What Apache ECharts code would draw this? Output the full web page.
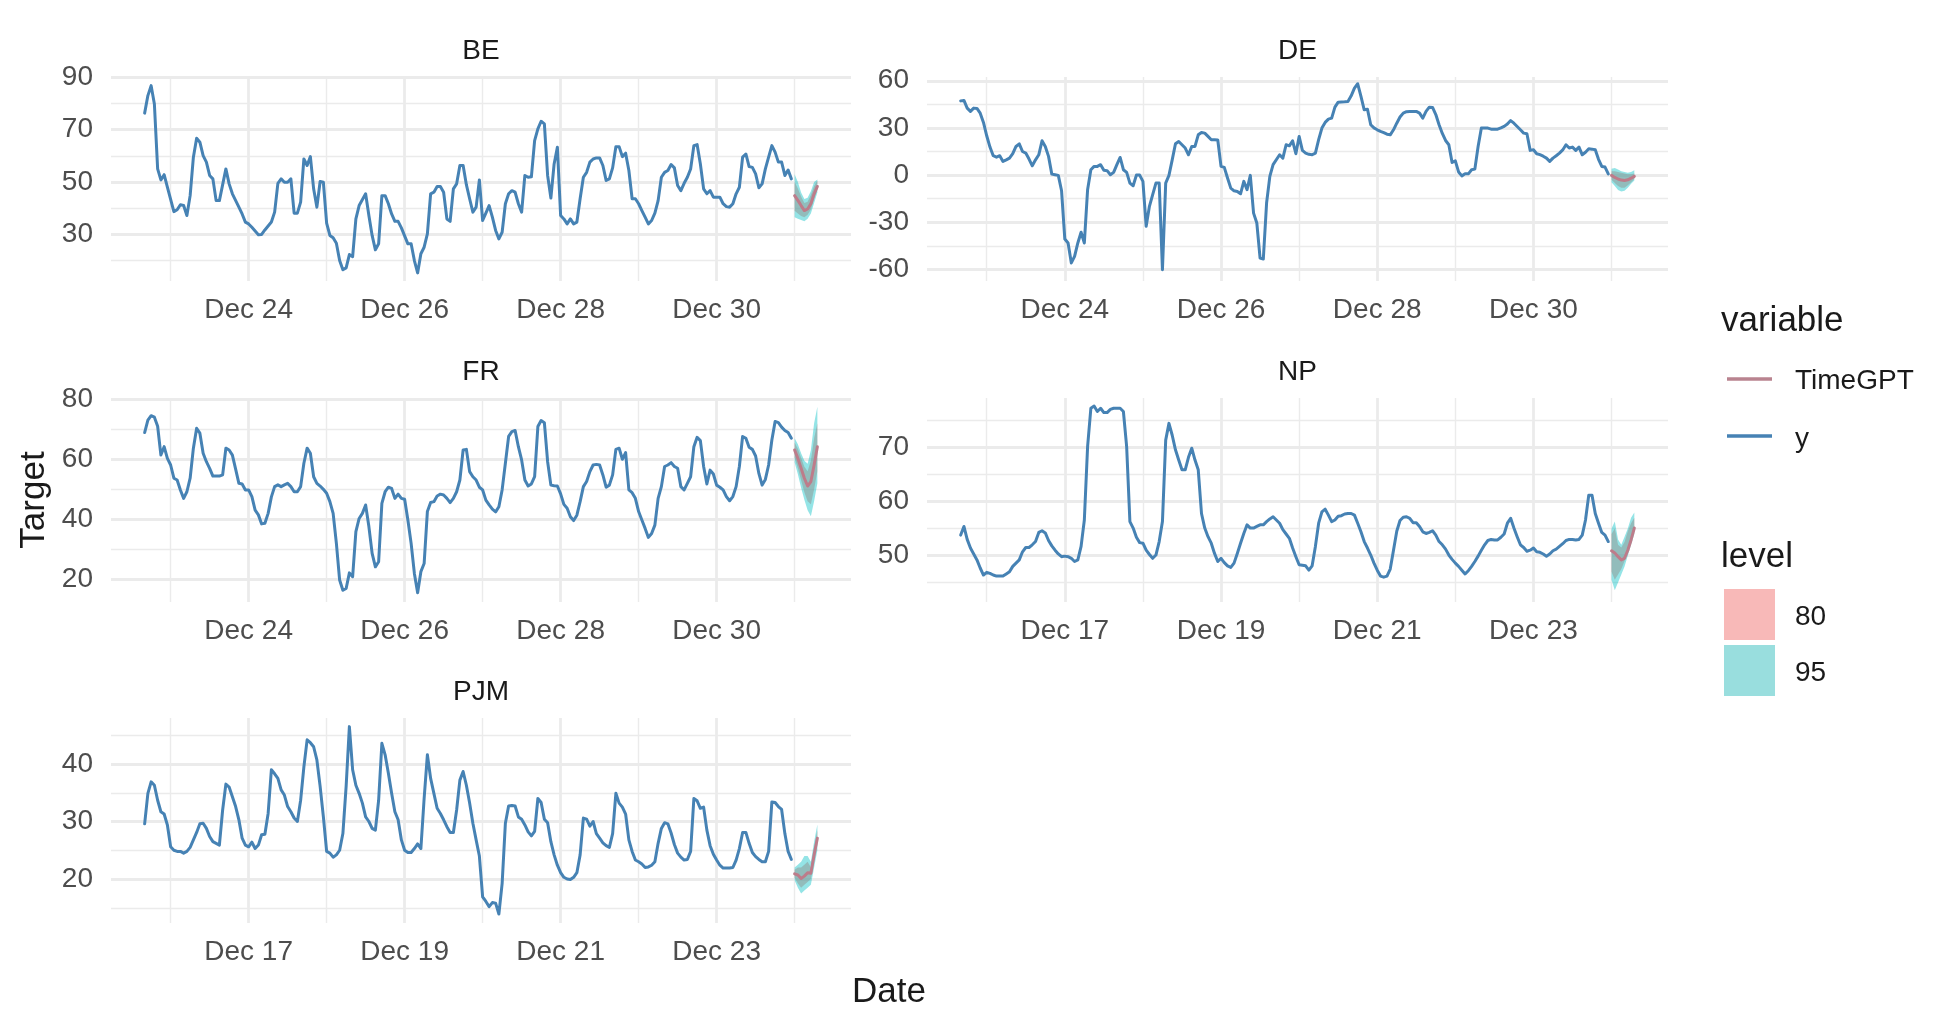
<!DOCTYPE html>
<html>
<head>
<meta charset="utf-8">
<title>TimeGPT forecasts by market</title>
<script src="https://cdn.jsdelivr.net/npm/echarts@6/dist/echarts.min.js"></script>
<style>
  html, body { margin: 0; padding: 0; background: #fff; }
  #chart { width: 1955px; height: 1024px; }
</style>
</head>
<body>
<div id="chart"></div>
<script>
// x values are hours counted from midnight of the panel's first day
// (Dec 22 for BE / DE / FR, Dec 15 for NP / PJM)

const beY = [[16,76.3],[17,83],[18,86.8],[19,79.8],[20,55],[21,50.8],[22,52.8],[23,48],[25,38.7],[26,39.4],[27,41.3],[28,41],[29,37.2],[30,44.8],[31,59.5],[32,66.7],[33,65.2],[34,60.1],[35,57.6],[36,52.5],[37,51.2],[38,42.9],[39,42.9],[41,55],[42,49.3],[43,45.5],[45,40.4],[46,37.8],[47,34.7],[48,34],[49,32.7],[51,29.9],[52,30],[53,31.7],[55,34.7],[56,38.5],[57,49.5],[58,51.2],[59,49.9],[60,49.9],[61,51.2],[62,38.1],[63,38.1],[64,42.3],[65,58.8],[66,56.3],[67,59.7],[68,47.4],[69,40.4],[70,50.2],[71,49.9],[72,34.3],[73,29.6],[74,28.7],[75,26.6],[76,20],[77,16.5],[78,17.2],[79,22.3],[80,21.5],[81,35.9],[82,41],[84,45.5],[85,37.2],[86,29.6],[87,24.1],[88,26.4],[89,44.8],[90,44.8],[91,41.7],[92,37.8],[93,35],[94,35],[95,32.5],[97,26.4],[98,26.4],[99,20],[100,15.3],[101,22.6],[102,25.1],[103,30.2],[104,45.5],[105,46.1],[106,48.3],[107,48.3],[108,46.1],[109,35.9],[110,35],[111,47.4],[112,49.3],[113,56.3],[114,56.3],[115,49],[116,43.6],[117,38.5],[118,40.4],[119,50.8],[120,35.3],[121,38.1],[122,41],[123,36.6],[124,31.5],[125,28.3],[126,30.8],[127,41.7],[128,45.5],[129,46.7],[130,46.1],[131,41.7],[132,38.5],[133,52.5],[134,51.8],[135,52],[136,65.8],[137,70.3],[138,73.2],[139,72.2],[140,52.5],[141,43.9],[142,56.9],[143,63.3],[144,37.2],[145,35.9],[146,34],[147,35.9],[148,34],[149,34.7],[150,43.6],[151,51.8],[152,53.7],[153,57.6],[154,58.8],[155,59.2],[156,59.2],[157,56.3],[158,50.6],[159,51.2],[160,55.4],[161,63.5],[162,63.5],[163,59.7],[164,61],[165,54.4],[166,43.6],[167,43.6],[168,41.7],[169,39.1],[170,36.6],[171,34],[172,35.3],[173,38.1],[174,42.9],[175,51.8],[176,53.7],[177,54.4],[178,56.7],[179,55.4],[180,48.7],[181,46.7],[182,49.5],[183,51.8],[184,55],[185,63.9],[186,64.3],[187,56.9],[188,47.4],[189,45.5],[190,46.7],[191,44.2],[192,44.2],[193,44.2],[194,41.7],[195,40.6],[196,40.4],[197,41.7],[198,45.5],[199,48],[200,59.5],[201,60.7],[202,55.9],[203,55.6],[204,53.1],[205,47.8],[206,49.3],[207,55],[208,59.5],[209,63.9],[210,61.4],[211,57.6],[212,57.6],[213,52.5],[214,54.6],[215,51.2]];

const deY = [[16,47.2],[17,47.5],[18,42.6],[19,40.5],[20,42.6],[21,42.4],[22,39.4],[23,33.5],[24,25],[25,17.8],[26,12.3],[27,11.4],[28,12.3],[29,8.7],[30,9.7],[31,10.8],[32,13.6],[33,18.2],[34,19.9],[35,15],[36,14],[37,10.2],[38,5.9],[39,9.7],[40,12.9],[41,21.8],[42,18.2],[43,11.9],[44,0.6],[45,0.2],[46,-0.2],[47,-10],[48,-40.7],[49,-43.2],[50,-55.9],[51,-51.7],[52,-43.2],[53,-36.4],[54,-43.2],[55,-9.3],[56,3.4],[57,5.5],[58,5.5],[59,6.6],[60,3],[61,2.8],[62,0.2],[63,1.7],[64,6.6],[65,11.2],[66,3.4],[67,1.7],[68,-5.1],[69,-6.8],[70,0],[71,0],[72,-4],[73,-32.6],[74,-19.9],[75,-12.5],[76,-5.1],[77,-5.1],[78,-60.2],[79,-5.1],[80,-0.2],[81,9.7],[82,19.9],[83,21.4],[84,19.3],[85,17.2],[86,12.9],[87,18.2],[88,18.2],[89,25.6],[90,27.1],[91,26.7],[92,24.6],[93,22.5],[94,22.5],[95,22.3],[96,5.5],[97,4.9],[98,-1.9],[99,-8.3],[100,-10],[101,-10.4],[102,-11.9],[103,-4],[104,-9.3],[105,-0.2],[106,-24.2],[107,-30.5],[108,-52.8],[109,-53.4],[110,-17.8],[111,-0.8],[112,6.6],[114,12.9],[115,10.8],[116,19.3],[117,18.6],[118,21.8],[119,13.6],[120,24.6],[121,15.7],[122,14],[123,13.2],[124,12.9],[125,14],[126,22.5],[127,29.9],[128,33.5],[129,35.6],[130,36.2],[131,43.2],[132,46.4],[133,46.5],[134,46.6],[135,46.8],[136,50.4],[137,55.3],[138,58.1],[139,50],[140,41.5],[141,41.9],[142,32],[143,30],[144,28.8],[145,27.8],[146,27],[147,26],[148,25.6],[149,28.8],[150,33],[151,36.9],[152,39.4],[153,40.3],[154,40.5],[155,40.5],[156,40.5],[157,39.4],[158,36.2],[159,40.5],[160,43.2],[161,43],[162,38.5],[163,32],[164,26.5],[165,22],[166,19.3],[167,8],[168,9],[169,2],[170,-0.5],[171,0.8],[172,0.8],[173,3.4],[174,3.8],[175,18.2],[176,29.9],[177,29.9],[178,29.9],[179,29.2],[180,29.2],[181,29.2],[182,30],[183,31],[184,32.5],[185,34.7],[186,33],[187,30.9],[188,28.8],[189,26.7],[190,26.3],[191,15.7],[192,16.1],[193,13.6],[194,13],[195,12],[196,10.8],[197,8.7],[198,10.8],[199,12.3],[200,14],[201,16],[202,19.3],[203,17.2],[204,17.8],[205,15.7],[206,17.8],[207,12.9],[208,14.5],[209,16.7],[210,16.5],[211,16.1],[212,10],[213,5.5],[214,5.1],[215,0.8]];

const frY = [[16,68.9],[17,73],[18,74.5],[19,74],[20,71],[21,61.4],[22,64.2],[23,60.3],[24,58.1],[25,53.7],[26,53.1],[27,49.8],[28,47],[29,49.2],[30,53.7],[31,63.7],[32,70.3],[33,68.7],[34,62],[35,59.2],[36,57],[37,54.4],[38,54.4],[39,54.4],[40,54.8],[41,63.7],[42,63.1],[43,61.4],[44,56.7],[45,52],[46,51.8],[47,49.8],[48,49.8],[49,47.6],[50,43.1],[51,41.5],[52,38.5],[53,38.7],[54,42],[55,47.5],[56,50.9],[57,51.5],[58,50.9],[59,51.5],[60,52],[61,50.9],[62,49.2],[63,49.2],[64,50.9],[65,58.7],[66,63.7],[67,62],[68,54.2],[69,52],[70,51.1],[71,50],[72,48.7],[73,45.9],[74,42],[75,32],[76,19.8],[77,16.4],[78,17],[79,22.2],[80,20.9],[81,35.9],[82,40.3],[83,42],[84,44.8],[85,37.6],[86,28.7],[87,24.2],[88,25.9],[89,45.3],[90,49.2],[91,50.7],[92,50.3],[93,47],[94,48.4],[95,47],[96,46.7],[97,39.8],[98,32],[99,22],[100,15.6],[101,22.6],[102,25.3],[103,42.6],[104,45.6],[105,45.9],[106,47.8],[107,48.4],[108,48.1],[109,47],[110,45.6],[111,47],[112,49.2],[113,53.1],[114,63.1],[115,63.3],[116,55.9],[117,54.2],[118,53.1],[119,50.7],[120,49.8],[121,46.4],[122,44.8],[123,43.4],[124,42.5],[125,44.2],[126,49.8],[127,58.7],[128,67.6],[129,69.2],[130,69.6],[131,64.2],[132,59.8],[133,53.1],[134,51.1],[135,51.8],[136,54.2],[137,70.9],[138,72.9],[139,72.2],[140,59.2],[141,51.4],[142,51.2],[143,51.1],[144,48.5],[145,45],[146,43.7],[147,40.9],[148,39.6],[149,41.4],[150,45.9],[151,50.9],[152,52.6],[153,55.9],[154,58.1],[155,58.3],[156,58.1],[157,54.8],[158,50.7],[159,51.4],[160,54.8],[161,63.3],[162,63.7],[163,60],[164,62.2],[165,49.8],[166,48.9],[167,47],[168,42.6],[169,39.8],[170,37],[171,34],[172,35.3],[173,38.1],[174,47],[175,50.9],[176,57.6],[177,58.1],[178,58.9],[179,57.6],[180,57],[181,50.9],[182,49.8],[183,52],[184,54.2],[185,64.2],[186,67.3],[187,66.2],[188,57.6],[189,51.8],[190,56.4],[191,55.1],[192,51.4],[193,50.7],[194,49.8],[195,47.6],[196,46.2],[197,47.6],[198,50.9],[199,57.6],[200,67.6],[201,67],[202,64],[203,63.3],[204,61.1],[205,55.3],[206,51.4],[207,53.3],[208,58.1],[209,66.4],[210,72.6],[211,72.2],[212,70.7],[213,69.6],[214,68.9],[215,67]];

const npY = [[16,53.8],[17,55.4],[18,53],[19,51.4],[20,50.3],[21,49.2],[22,47.7],[23,46.4],[24,46.9],[25,46.7],[26,46.4],[27,46.2],[28,46.2],[29,46.2],[30,46.6],[31,47],[32,48],[33,48.6],[34,49.2],[35,50.7],[36,51.5],[37,51.5],[38,52],[39,52.6],[40,54.3],[41,54.6],[42,54.2],[43,52.8],[44,51.8],[45,51],[46,50.3],[47,49.8],[48,49.9],[49,49.8],[50,49.5],[51,48.9],[52,49.2],[53,51.7],[54,56.6],[55,70.2],[56,77.3],[57,77.7],[58,76.7],[59,77.3],[60,76.5],[61,76.5],[62,77.1],[63,77.3],[64,77.3],[65,77.3],[66,76.7],[67,70.2],[68,56.3],[69,55.1],[70,53.4],[71,52.4],[72,52.3],[73,51],[74,50.2],[75,49.5],[76,50.1],[77,52.6],[78,56.3],[79,71.4],[80,74.5],[81,72.3],[82,69.6],[83,67.7],[84,65.9],[85,65.9],[86,68.2],[87,69.9],[88,67.7],[89,65.9],[90,57.8],[91,55.1],[92,53.5],[93,52.3],[94,50.4],[95,48.9],[96,49.5],[97,48.7],[98,48.1],[99,47.8],[100,48.6],[101,50.4],[102,52.3],[103,54.1],[104,55.7],[105,55.1],[106,55.1],[107,55.4],[108,55.7],[109,55.7],[110,56.3],[111,56.8],[112,57.2],[113,56.6],[114,56],[115,54.8],[116,54],[117,53.2],[118,51.4],[119,49.8],[120,48.3],[121,48.2],[122,48.1],[123,47.3],[124,48.1],[125,51.7],[126,56],[127,58.1],[128,58.6],[129,57.5],[130,56.3],[131,56.6],[132,57.3],[133,57.4],[134,57.7],[135,57.8],[136,57.8],[137,57.5],[138,56],[139,54.4],[140,52.6],[141,51.4],[142,50.1],[143,48.6],[144,47.3],[145,46.2],[146,46],[147,46.2],[148,47.5],[149,51],[150,54.5],[151,56.5],[152,57.1],[153,57.2],[154,56.9],[155,56.1],[156,56.1],[157,55.4],[158,54.4],[159,54.1],[160,54.3],[161,54.6],[162,53.8],[163,52.6],[164,52],[165,51.2],[166,50.1],[167,49.3],[168,48.6],[169,48],[170,47.3],[171,46.6],[172,47.2],[173,48],[174,48.9],[175,49.9],[176,51],[177,52],[178,52.8],[179,53],[180,52.9],[181,52.9],[182,53.4],[183,54],[184,56],[185,56.9],[186,55.1],[187,53.5],[188,52],[189,51.5],[190,50.8],[191,51],[192,51.4],[193,50.7],[194,50.6],[195,50.3],[196,49.9],[197,50.3],[198,50.9],[199,51.2],[200,51.7],[201,52.2],[202,52.8],[203,53],[204,53],[205,52.9],[206,53],[207,53.8],[208,56.6],[209,61.2],[210,61.2],[211,57.8],[212,56],[213,54.3],[214,53.8],[215,52.6]];

const pjmY = [[16,29.6],[17,34.9],[18,36.9],[19,36.3],[20,33.7],[21,31.7],[22,31.3],[23,29.4],[24,25.6],[25,25],[26,24.8],[27,24.8],[28,24.5],[29,24.8],[30,25.5],[31,26.8],[32,28.1],[33,29.6],[34,29.7],[35,28.8],[36,27.4],[37,26.5],[38,26.2],[39,25.9],[40,32],[41,36.5],[42,36],[43,34.3],[44,32.6],[45,30.3],[46,27.1],[47,25.9],[48,25.6],[49,26.4],[50,25.3],[51,25.9],[52,27.7],[53,27.8],[54,31.4],[55,39],[56,38.3],[57,37.5],[58,35.5],[59,34.6],[60,32.6],[61,31.7],[62,30.6],[63,30],[64,33.7],[65,39.5],[66,44.2],[67,43.7],[68,43],[69,40.7],[70,36.1],[71,30.8],[72,24.8],[73,24.5],[74,23.8],[75,24.2],[76,25],[77,27.9],[78,36.1],[79,46.5],[80,39],[81,36.3],[82,34.9],[83,33.2],[84,30.8],[85,30],[86,28.8],[87,28.5],[88,33.7],[89,43.6],[90,41.6],[91,38.4],[92,34.9],[93,31.7],[94,30.3],[95,26.8],[96,25],[97,24.6],[98,24.6],[99,25.3],[100,26.1],[101,25.3],[102,34],[103,41.6],[104,37.5],[105,34.9],[106,32.3],[107,31.4],[108,30.3],[109,29.1],[110,28.1],[111,28.1],[112,32],[113,37.2],[114,38.7],[115,36.3],[116,33.2],[117,29.7],[118,26.8],[119,24],[120,16.9],[121,16.1],[122,15.2],[123,15.9],[124,15.8],[125,13.9],[126,19.2],[127,29.7],[128,32.7],[129,32.8],[130,32.7],[131,30.8],[132,30.4],[133,29.4],[134,28.2],[135,27.5],[136,28.3],[137,34],[138,33.3],[139,30.4],[140,29.8],[141,26.5],[142,24.2],[143,22.4],[144,21.1],[145,20.3],[146,20],[147,19.9],[148,20.3],[149,21.1],[150,24.2],[151,30.6],[152,30.4],[153,29.2],[154,30],[155,27.9],[156,27.1],[157,26.3],[158,25.8],[159,25.5],[160,27.9],[161,34.9],[162,33.2],[163,32.5],[164,31.3],[165,26.8],[166,24.8],[167,23.3],[168,23],[169,22.6],[170,22],[171,22.1],[172,22.4],[173,23],[174,26.2],[175,28.8],[176,29.8],[177,29.6],[178,28],[179,26],[180,24.5],[181,23.8],[182,23.3],[183,23.4],[184,24.8],[185,34],[186,33.6],[187,32.3],[188,32.5],[189,28.5],[190,25.8],[191,24.3],[192,23.3],[193,22.4],[194,21.9],[195,21.9],[196,21.9],[197,22],[198,23.3],[199,25.3],[200,28.1],[201,28.1],[202,26.2],[203,24.6],[204,23.9],[205,23.4],[206,23],[207,23],[208,24.8],[209,33.4],[210,33.3],[211,32.6],[212,32.1],[213,27.9],[214,24.8],[215,23.4]];

// TimeGPT forecast hours and intervals
const fcHours = [216, 217, 218, 219, 220, 221, 222, 223];

const beMean = [44.8, 43, 41, 39.1, 39.7, 41.7, 45.5, 48.3];
const beLo80 = [39, 38, 37, 36.5, 37.5, 39.5, 43.5, 47];
const beHi80 = [50, 47.5, 44.5, 42, 42.5, 45, 48.5, 50.5];
const beLo95 = [36.5, 36, 35.5, 35, 36, 38, 42, 46];
const beHi95 = [53, 50, 46, 43.5, 44, 46.5, 50, 51];

const deMean = [-0.2, -1.5, -2.5, -3.2, -3.4, -3, -2, -0.8];
const deLo80 = [-3, -5, -7, -8, -8, -6.5, -4.5, -2.5];
const deHi80 = [2.5, 2.5, 2, 1.5, 1, 0.5, 0.5, 1];
const deLo95 = [-4.5, -7, -9.5, -10.5, -10, -8, -5.5, -3.5];
const deHi95 = [4, 4.5, 3.5, 2.5, 2, 1.5, 2, 3];

const frMean = [63.1, 60.3, 57, 53.7, 51.1, 52.6, 58.1, 64.2];
const frLo80 = [60.5, 57, 53, 49, 46, 45, 50, 56];
const frHi80 = [65.5, 63.5, 60.5, 57.5, 56, 59.5, 67, 72];
const frLo95 = [59, 55, 50.5, 46.5, 43, 41, 46, 52];
const frHi95 = [67, 65, 62, 59.5, 58.5, 63, 72, 77.5];

const npMean = [50.9, 50.5, 49.8, 49.2, 49.5, 51, 52.9, 55.1];
const npLo80 = [47, 45.5, 46.5, 47.5, 49, 51, 53, 54.5];
const npHi80 = [54, 55, 52, 51.5, 52.5, 54.5, 56, 57];
const npLo95 = [45.5, 43.6, 45, 46.5, 48, 50, 52, 54];
const npHi95 = [55, 56.3, 53, 52, 53.5, 55, 57, 58];

const pjmMean = [20.9, 20.7, 20.1, 20.5, 21.1, 21, 24.2, 27.1];
const pjmLo80 = [20.2, 19.2, 18.5, 19, 19.5, 20, 23, 26];
const pjmHi80 = [21.6, 22, 22, 22.5, 23, 22, 25.5, 28.5];
const pjmLo95 = [19.8, 18.5, 17.5, 18, 18.5, 19, 22, 25];
const pjmHi95 = [22, 22.5, 23, 24, 24, 23, 26.5, 29.5];

// axis breaks
const xMajor = [48, 96, 144, 192];
const xMinor = [24, 72, 120, 168, 216];
const beTicks = [30, 50, 70, 90],    beMinor = [20, 40, 60, 80];
const deTicks = [-60, -30, 0, 30, 60], deMinor = [-45, -15, 15, 45];
const frTicks = [20, 40, 60, 80],    frMinor = [30, 50, 70];
const npTicks = [50, 60, 70],        npMinor = [45, 55, 65, 75];
const pjmTicks = [20, 30, 40],       pjmMinor = [15, 25, 35, 45];

const FONT = '"Liberation Sans", Arial, Helvetica, sans-serif';
const GRID = '#ebebeb';
const Y_COLOR = '#4682b4';
const GPT_COLOR = '#bd7c8a';
const FILL_80 = 'rgba(248,118,109,0.5)';
const FILL_95 = 'rgba(0,191,196,0.42)';

const panels = [
  { id: 'BE',  y: beY,  mean: beMean,  lo80: beLo80,  hi80: beHi80,  lo95: beLo95,  hi95: beHi95,
    day0: 22, ticks: beTicks,  minor: beMinor,  yMin: 12.2,  yMax: 90.1, box: [111, 77, 740, 204], titleY: 51 },
  { id: 'DE',  y: deY,  mean: deMean,  lo80: deLo80,  hi80: deHi80,  lo95: deLo95,  hi95: deHi95,
    day0: 22, ticks: deTicks,  minor: deMinor,  yMin: -67.4, yMax: 62.4, box: [927, 77, 741, 204], titleY: 51 },
  { id: 'FR',  y: frY,  mean: frMean,  lo80: frLo80,  hi80: frHi80,  lo95: frLo95,  hi95: frHi95,
    day0: 22, ticks: frTicks,  minor: frMinor,  yMin: 12.5,  yMax: 80.4, box: [111, 398, 740, 204], titleY: 372 },
  { id: 'NP',  y: npY,  mean: npMean,  lo80: npLo80,  hi80: npHi80,  lo95: npLo95,  hi95: npHi95,
    day0: 15, ticks: npTicks,  minor: npMinor,  yMin: 41.4,  yMax: 79.2, box: [927, 398, 741, 204], titleY: 372 },
  { id: 'PJM', y: pjmY, mean: pjmMean, lo80: pjmLo80, hi80: pjmHi80, lo95: pjmLo95, hi95: pjmHi95,
    day0: 15, ticks: pjmTicks, minor: pjmMinor, yMin: 12.35, yMax: 48.0, box: [111, 718, 740, 205], titleY: 692 }
];

// ggplot pads the data range (hour 16 .. 223) by 5% on each side
const X_MIN = 5.65, X_MAX = 233.35;

function bandSeries(i, lo, hi, color) {
  const rows = fcHours.map((h, k) => [h, lo[k], hi[k]]);
  return {
    type: 'custom',
    xAxisIndex: 2 * i,
    yAxisIndex: 2 * i,
    silent: true,
    z: 3,
    data: rows,
    encode: { x: 0, y: [1, 2] },
    renderItem(params, api) {
      if (params.dataIndex !== 0) return null;
      const upper = rows.map(r => api.coord([r[0], r[2]]));
      const lower = rows.map(r => api.coord([r[0], r[1]])).reverse();
      return { type: 'polygon', shape: { points: upper.concat(lower) }, style: { fill: color } };
    }
  };
}

const grids = [], xAxes = [], yAxes = [], series = [];

panels.forEach((p, i) => {
  const [left, top, width, height] = p.box;
  grids.push({ left, top, width, height, outerBoundsMode: 'none' });

  const labelStyle = { fontSize: 28, color: '#4d4d4d', fontFamily: FONT };
  xAxes.push({
    type: 'value', gridIndex: i, min: X_MIN, max: X_MAX, position: 'bottom',
    axisLine: { show: false },
    axisTick: { show: false, customValues: xMajor },
    axisLabel: { ...labelStyle, customValues: xMajor, margin: 15, formatter: v => 'Dec ' + (p.day0 + v / 24) },
    splitLine: { show: true, lineStyle: { color: GRID, width: 2.8 } }
  }, {
    type: 'value', gridIndex: i, min: X_MIN, max: X_MAX, position: 'top',
    axisLine: { show: false },
    axisTick: { show: false, customValues: xMinor },
    axisLabel: { show: false },
    splitLine: { show: true, lineStyle: { color: GRID, width: 1.4 } }
  });
  yAxes.push({
    type: 'value', gridIndex: i, min: p.yMin, max: p.yMax, position: 'left',
    axisLine: { show: false },
    axisTick: { show: false, customValues: p.ticks },
    axisLabel: { ...labelStyle, customValues: p.ticks, margin: 18 },
    splitLine: { show: true, lineStyle: { color: GRID, width: 2.8 } }
  }, {
    type: 'value', gridIndex: i, min: p.yMin, max: p.yMax, position: 'right',
    axisLine: { show: false },
    axisTick: { show: false, customValues: p.minor },
    axisLabel: { show: false },
    splitLine: { show: true, lineStyle: { color: GRID, width: 1.4 } }
  });

  series.push({
    name: 'y', type: 'line', xAxisIndex: 2 * i, yAxisIndex: 2 * i,
    data: p.y, showSymbol: false, symbol: 'none', silent: true, z: 2,
    lineStyle: { color: Y_COLOR, width: 3, join: 'round', cap: 'round' }
  });
  series.push(bandSeries(i, p.lo80, p.hi80, FILL_80));
  series.push(bandSeries(i, p.lo95, p.hi95, FILL_95));
  series.push({
    name: 'TimeGPT', type: 'line', xAxisIndex: 2 * i, yAxisIndex: 2 * i,
    data: fcHours.map((h, k) => [h, p.mean[k]]), showSymbol: false, symbol: 'none', silent: true, z: 4,
    lineStyle: { color: GPT_COLOR, width: 3, join: 'round', cap: 'round' }
  });
});

function label(text, x, y, size, extra) {
  return Object.assign({
    type: 'text', x, y, silent: true,
    style: {
      text, fontSize: size, fontFamily: FONT, fill: '#1a1a1a',
      align: 'left', textAlign: 'left', verticalAlign: 'middle', textVerticalAlign: 'middle'
    }
  }, extra || {});
}

function centered(text, x, y, size, extra) {
  const el = label(text, x, y, size, extra);
  el.style.align = el.style.textAlign = 'center';
  return el;
}

const graphics = [];
panels.forEach(p => {
  graphics.push(centered(p.id, p.box[0] + p.box[2] / 2, p.titleY, 28));
});
graphics.push(centered('Target', 34, 500, 35, { rotation: Math.PI / 2 }));
graphics.push(centered('Date', 889, 992, 35));

// legend: variable
graphics.push(label('variable', 1721, 321, 35));
graphics.push({ type: 'line', silent: true, shape: { x1: 1727, y1: 379, x2: 1772, y2: 379 },
  style: { stroke: '#b9838f', lineWidth: 3.5 } });
graphics.push(label('TimeGPT', 1795, 381, 28));
graphics.push({ type: 'line', silent: true, shape: { x1: 1727, y1: 436, x2: 1772, y2: 436 },
  style: { stroke: Y_COLOR, lineWidth: 3.5 } });
graphics.push(label('y', 1795, 439, 28));

// legend: level
graphics.push(label('level', 1721, 557, 35));
graphics.push({ type: 'rect', silent: true, shape: { x: 1724, y: 589, width: 51, height: 51 },
  style: { fill: '#f8b9b8' } });
graphics.push(label('80', 1795, 617, 28));
graphics.push({ type: 'rect', silent: true, shape: { x: 1724, y: 645, width: 51, height: 51 },
  style: { fill: '#99dede' } });
graphics.push(label('95', 1795, 673, 28));

const chart = echarts.init(document.getElementById('chart'), null, { renderer: 'canvas' });
chart.setOption({
  backgroundColor: '#ffffff',
  animation: false,
  textStyle: { fontFamily: FONT },
  grid: grids,
  xAxis: xAxes,
  yAxis: yAxes,
  series: series,
  graphic: graphics
});
window.addEventListener('resize', () => chart.resize());
</script>
</body>
</html>
